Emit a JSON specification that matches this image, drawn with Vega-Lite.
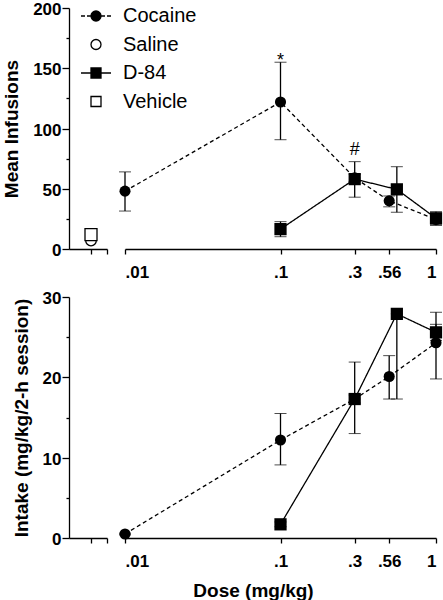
{
  "$schema": "https://vega.github.io/schema/vega-lite/v6.json",
  "padding": {"left": 2, "top": 0, "right": 0, "bottom": 0},
  "datasets": {
    "infusions": [
      {"drug": "Cocaine", "dose": 0.01, "mean": 48, "lo": 31.5, "hi": 64},
      {"drug": "Cocaine", "dose": 0.1, "mean": 122, "lo": 90.7, "hi": 155},
      {"drug": "Cocaine", "dose": 0.3, "mean": 59, "lo": 56, "hi": 62},
      {"drug": "Cocaine", "dose": 0.5, "mean": 40, "lo": 35, "hi": 44},
      {"drug": "Cocaine", "dose": 1, "mean": 24.5, "lo": 20, "hi": 29},
      {"drug": "D-84", "dose": 0.1, "mean": 16.5, "lo": 10.2, "hi": 22.7},
      {"drug": "D-84", "dose": 0.3, "mean": 58, "lo": 43, "hi": 72.5},
      {"drug": "D-84", "dose": 0.56, "mean": 49.5, "lo": 30.5, "hi": 68.3},
      {"drug": "D-84", "dose": 1, "mean": 25.5, "lo": 19.7, "hi": 31}
    ],
    "intake": [
      {"drug": "Cocaine", "dose": 0.01, "mean": 0.5, "lo": 0.4, "hi": 0.6},
      {"drug": "Cocaine", "dose": 0.1, "mean": 12.2, "lo": 9.1, "hi": 15.5},
      {"drug": "Cocaine", "dose": 0.3, "mean": 17.3, "lo": 16.8, "hi": 17.8},
      {"drug": "Cocaine", "dose": 0.5, "mean": 20.1, "lo": 17.3, "hi": 22.7},
      {"drug": "Cocaine", "dose": 1, "mean": 24.3, "lo": 19.8, "hi": 28.1},
      {"drug": "D-84", "dose": 0.1, "mean": 1.7, "lo": 1.4, "hi": 2.0},
      {"drug": "D-84", "dose": 0.3, "mean": 17.3, "lo": 13.0, "hi": 21.9},
      {"drug": "D-84", "dose": 0.56, "mean": 27.9, "lo": 17.3, "hi": 27.9},
      {"drug": "D-84", "dose": 1, "mean": 25.6, "lo": 24.6, "hi": 26.6}
    ],
    "controls": [
      {"drug": "Saline", "condition": "Control", "mean": 7},
      {"drug": "Vehicle", "condition": "Control", "mean": 12}
    ],
    "marks": [
      {"dose": 0.1, "pos": 152, "label": "*"},
      {"dose": 0.3, "pos": 78, "label": "#"}
    ]
  },
  "spacing": 9,
  "vconcat": [
    {
      "bounds": "flush",
      "spacing": 18,
      "hconcat": [
        {
          "width": 38,
          "height": 241,
          "data": {"name": "controls"},
          "encoding": {
            "x": {"field": "condition", "type": "nominal", "scale": {"type": "point", "domain": ["Control", "end"], "padding": 0.6875, "align": 1},
                  "axis": {"title": null, "labels": false, "tickSize": 5}},
            "y": {"field": "mean", "type": "quantitative", "scale": {"domain": [0, 200], "nice": false},
                  "axis": {"title": "Mean Infusions", "values": [0, 25, 50, 75, 100, 125, 150, 175, 200], "labelExpr": "datum.value % 50 === 0 ? datum.label : ''", "tickSize": {"condition": {"test": "datum.value % 50 === 0", "value": 7}, "value": 3}, "labelPadding": 1, "labelOffset": 1.5, "titlePadding": 11}}
          },
          "layer": [
            {"transform": [{"filter": "datum.drug === 'Saline'"}], "mark": {"type": "point", "shape": "circle", "filled": true, "fill": "white", "stroke": "black", "strokeWidth": 1.3, "size": 113, "opacity": 1}},
            {"transform": [{"filter": "datum.drug === 'Vehicle'"}], "mark": {"type": "point", "shape": "square", "filled": true, "fill": "white", "stroke": "black", "strokeWidth": 1.3, "size": 144, "opacity": 1}}
          ]
        },
        {
          "width": 311,
          "height": 241,
          "encoding": {
            "x": {"field": "dose", "type": "quantitative", "scale": {"type": "log", "domain": [0.01, 1], "nice": false},
                  "axis": {"title": null, "values": [0.01, 0.1, 0.3, 0.5, 1], "tickSize": 5, "labelPadding": 10, "labelExpr": "datum.value < 0.05 ? '.01' : datum.value < 0.2 ? '.1' : datum.value < 0.4 ? '.3' : datum.value < 0.9 ? '.56' : '1'"}},
            "y": {"field": "mean", "type": "quantitative", "scale": {"domain": [0, 200], "nice": false}, "axis": null}
          },
          "layer": [
            {"data": {"name": "infusions"}, "mark": {"type": "line", "color": "black", "strokeWidth": 1.3},
             "encoding": {"strokeDash": {"field": "drug", "type": "nominal", "scale": {"domain": ["Cocaine", "D-84"], "range": [[4, 3], [1, 0]]}, "legend": null}}},
            {"data": {"name": "infusions"}, "mark": {"type": "errorbar", "ticks": {"size": 12, "color": "black", "strokeWidth": 1.3}, "rule": {"color": "black", "strokeWidth": 1.3}},
             "encoding": {"y": {"field": "lo", "type": "quantitative"}, "y2": {"field": "hi"}}},
            {"data": {"name": "infusions"}, "transform": [{"filter": "datum.drug === 'Cocaine'"}], "mark": {"type": "point", "shape": "circle", "filled": true, "color": "black", "size": 123, "opacity": 1}},
            {"data": {"name": "infusions"}, "transform": [{"filter": "datum.drug === 'D-84'"}], "mark": {"type": "point", "shape": "square", "filled": true, "color": "black", "size": 150, "opacity": 1}},
            {"data": {"name": "marks"}, "mark": {"type": "text", "fontSize": 18, "color": "black", "baseline": "alphabetic"},
             "encoding": {"y": {"field": "pos", "type": "quantitative"}, "text": {"field": "label"}}},
            {"data": {"name": "infusions"}, "mark": {"type": "point", "opacity": 0, "strokeWidth": 1.3},
             "encoding": {
               "shape": {"field": "drug", "type": "nominal",
                 "scale": {"domain": ["Cocaine", "Saline", "D-84", "Vehicle"], "range": ["M-3,0L-2.2,0M-1.8,0L-1,0M1,0L1.8,0M2.2,0L3,0M-1,0A1,1,0,1,1,1,0A1,1,0,1,1,-1,0Z", "circle", "M-3,0L-1,0M1,0L3,0M-1,-1L1,-1L1,1L-1,1Z", "square"]},
                 "legend": {"orient": "none", "legendX": 17, "legendY": -2, "title": null, "padding": 0, "labelFontSize": 20, "labelFont": "Liberation Sans", "labelColor": "black", "symbolSize": 100, "symbolStrokeWidth": 1.3, "symbolOpacity": 1, "labelOffset": 17, "rowPadding": 8.5}},
               "fill": {"field": "drug", "type": "nominal",
                 "scale": {"domain": ["Cocaine", "Saline", "D-84", "Vehicle"], "range": ["black", "white", "black", "white"]},
                 "legend": {"orient": "none", "legendX": 17, "legendY": -2, "title": null, "padding": 0, "labelFontSize": 20, "labelFont": "Liberation Sans", "labelColor": "black", "symbolSize": 100, "symbolStrokeWidth": 1.3, "symbolOpacity": 1, "labelOffset": 17, "rowPadding": 8.5}},
               "stroke": {"field": "drug", "type": "nominal",
                 "scale": {"domain": ["Cocaine", "Saline", "D-84", "Vehicle"], "range": ["black", "black", "black", "black"]},
                 "legend": {"orient": "none", "legendX": 17, "legendY": -2, "title": null, "padding": 0, "labelFontSize": 20, "labelFont": "Liberation Sans", "labelColor": "black", "symbolSize": 100, "symbolStrokeWidth": 1.3, "symbolOpacity": 1, "labelOffset": 17, "rowPadding": 8.5}}
             }}
          ]
        }
      ]
    },
    {
      "bounds": "flush",
      "spacing": 18,
      "hconcat": [
        {
          "width": 38,
          "height": 241,
          "data": {"values": []},
          "mark": {"type": "point", "opacity": 0},
          "encoding": {
            "x": {"field": "condition", "type": "nominal", "scale": {"type": "point", "domain": ["Control", "end"], "padding": 0.6875, "align": 1},
                  "axis": {"title": null, "labels": false, "tickSize": 5}},
            "y": {"field": "mean", "type": "quantitative", "scale": {"domain": [0, 30], "nice": false},
                  "axis": {"title": "Intake (mg/kg/2-h session)", "values": [0, 5, 10, 15, 20, 25, 30], "labelExpr": "datum.value % 10 === 0 ? datum.label : ''", "tickSize": {"condition": {"test": "datum.value % 10 === 0", "value": 7}, "value": 3}, "labelPadding": 1, "labelOffset": 1.5, "titlePadding": 11}}
          }
        },
        {
          "width": 311,
          "height": 241,
          "data": {"name": "intake"},
          "encoding": {
            "x": {"field": "dose", "type": "quantitative", "scale": {"type": "log", "domain": [0.01, 1], "nice": false},
                  "axis": {"title": "Dose (mg/kg)", "titleX": 128, "titleY": 58, "titleBaseline": "alphabetic", "values": [0.01, 0.1, 0.3, 0.5, 1], "tickSize": 5, "labelPadding": 10, "labelExpr": "datum.value < 0.05 ? '.01' : datum.value < 0.2 ? '.1' : datum.value < 0.4 ? '.3' : datum.value < 0.9 ? '.56' : '1'"}},
            "y": {"field": "mean", "type": "quantitative", "scale": {"domain": [0, 30], "nice": false}, "axis": null}
          },
          "layer": [
            {"mark": {"type": "line", "color": "black", "strokeWidth": 1.3},
             "encoding": {"strokeDash": {"field": "drug", "type": "nominal", "scale": {"domain": ["Cocaine", "D-84"], "range": [[4, 3], [1, 0]]}, "legend": null}}},
            {"mark": {"type": "errorbar", "ticks": {"size": 12, "color": "black", "strokeWidth": 1.3}, "rule": {"color": "black", "strokeWidth": 1.3}},
             "encoding": {"y": {"field": "lo", "type": "quantitative"}, "y2": {"field": "hi"}}},
            {"transform": [{"filter": "datum.drug === 'Cocaine'"}], "mark": {"type": "point", "shape": "circle", "filled": true, "color": "black", "size": 123, "opacity": 1}},
            {"transform": [{"filter": "datum.drug === 'D-84'"}], "mark": {"type": "point", "shape": "square", "filled": true, "color": "black", "size": 150, "opacity": 1}}
          ]
        }
      ]
    }
  ],
  "config": {
    "view": {"stroke": null},
    "font": "Liberation Sans",
    "axis": {
      "grid": false,
      "domainColor": "black",
      "domainWidth": 1.3,
      "tickColor": "black",
      "tickWidth": 1.3,
      "labelColor": "black",
      "labelFont": "Liberation Sans",
      "labelFontSize": 17,
      "labelFontWeight": "bold",
      "titleColor": "black",
      "titleFont": "Liberation Sans",
      "titleFontSize": 19,
      "titleFontWeight": "bold"
    }
  }
}
